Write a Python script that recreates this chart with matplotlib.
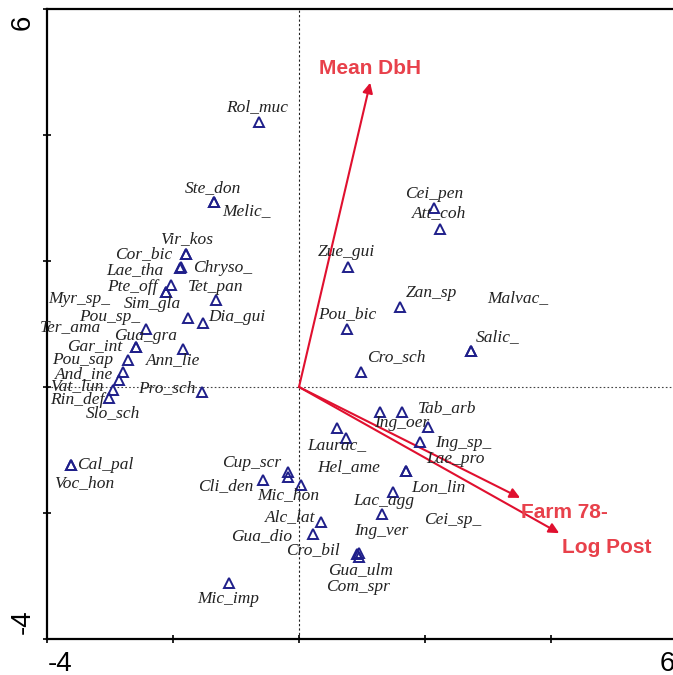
import matplotlib
matplotlib.use("Agg")
import matplotlib.pyplot as plt

# species scores (triangles)
species = ['Rol_muc', 'Ste_don', 'Melic_', 'Vir_kos', 'Cor_bic', 'Lae_tha', 'Chryso_',
           'Pte_off', 'Sim_gla', 'Myr_sp_', 'Tet_pan', 'Pou_sp_', 'Dia_gui', 'Gua_gra',
           'Ter_ama', 'Gar_int', 'Ann_lie', 'Pou_sap', 'And_ine', 'Vat_lun', 'Rin_def',
           'Slo_sch', 'Pro_sch', 'Cal_pal', 'Voc_hon', 'Cup_scr', '', 'Cli_den', 'Mic_hon',
           'Alc_lat', 'Gua_dio', 'Cro_bil', 'Gua_ulm', 'Com_spr', 'Mic_imp', 'Laurac_',
           'Hel_ame', 'Ing_oer', 'Tab_arb', 'Ing_sp_', 'Lae_pro', 'Lon_lin', 'Cei_sp_',
           'Lac_agg', 'Ing_ver', 'Cei_pen', 'Att_coh', 'Zue_gui', 'Zan_sp', 'Pou_bic',
           'Cro_sch', 'Salic_', 'Malvac_']
sp_x = [-0.63, -1.35, -1.35, -1.79, -1.79, -1.89, -1.87,
        -2.03, -2.11, -2.11, -1.32, -1.76, -1.52, -2.43,
        -2.59, -2.59, -1.84, -2.71, -2.79, -2.86, -2.95,
        -3.02, -1.54, -3.62, -3.62, -0.17, -0.17, -0.57, 0.03,
        0.35, 0.22, 0.92, 0.95, 0.95, -1.11, 0.60,
        0.75, 1.29, 1.63, 2.05, 1.92, 1.70, 1.70,
        1.49, 1.32, 2.14, 2.24, 0.78, 1.60, 0.76,
        0.98, 2.73, 2.73]
sp_y = [4.21, 2.94, 2.94, 2.11, 2.11, 1.89, 1.90,
        1.62, 1.51, 1.51, 1.38, 1.10, 1.02, 0.92,
        0.63, 0.63, 0.60, 0.43, 0.24, 0.11, -0.05,
        -0.17, -0.08, -1.24, -1.24, -1.35, -1.43, -1.48, -1.56,
        -2.14, -2.33, -2.65, -2.63, -2.70, -3.11, -0.65,
        -0.81, -0.40, -0.40, -0.63, -0.87, -1.33, -1.33,
        -1.67, -2.02, 2.84, 2.51, 1.90, 1.27, 0.92,
        0.24, 0.57, 0.57]

# where each species name is written (label centres)
lab_x = [-0.67, -1.37, -0.84, -1.79, -2.46, -2.60, -1.22,
         -2.65, -2.32, -3.49, -1.32, -3.00, -0.98, -2.43,
         -3.62, -3.24, -2.00, -3.43, -3.41, -3.52, -3.52,
         -2.95, -2.10, -3.08, -3.41, -0.75, 0, -1.17, -0.17,
         -0.14, -0.59, 0.22, 0.97, 0.94, -1.13, 0.60,
         0.78, 1.63, 2.35, 2.60, 2.48, 2.22, 2.44,
         1.35, 1.30, 2.14, 2.22, 0.76, 2.10, 0.76,
         1.54, 3.16, 3.48]
lab_y = [4.44, 3.16, 2.79, 2.35, 2.11, 1.86, 1.89,
         1.59, 1.32, 1.40, 1.59, 1.11, 1.11, 0.81,
         0.95, 0.65, 0.43, 0.43, 0.21, 0.02, -0.21,
         -0.41, -0.02, -1.24, -1.52, -1.21, 0, -1.57, -1.71,
         -2.06, -2.37, -2.59, -2.90, -3.17, -3.37, -0.92,
         -1.27, -0.57, -0.33, -0.89, -1.14, -1.59, -2.11,
         -1.81, -2.29, 3.06, 2.76, 2.14, 1.49, 1.16,
         0.48, 0.79, 1.41]

# environmental arrows
env_names = ['Mean DbH', 'Farm 78-', 'Log Post']
env_x = [1.13, 3.51, 4.13]
env_y = [4.83, -1.76, -2.32]
env_lab_x = [1.13, 4.21, 4.89]
env_lab_y = [5.05, -2.00, -2.54]

fig = plt.figure(figsize=(6.73, 6.75), dpi=100)
ax = fig.add_axes([47/673, 36/675, 630/673, 630/675])
ax.set_xlim(-4, 6)
ax.set_ylim(-4, 6)

ax.axhline(0, color='#444444', lw=0.8, ls=(0, (1.5, 2)), zorder=1)
ax.axvline(0, color='#222222', lw=0.8, ls=(0, (2, 2)), zorder=1)

ax.plot(sp_x, sp_y, ls='none', marker='^', ms=6.5, mfc='none',
        mec='#1f1f8a', mew=1.4, zorder=3)

for name, lx, ly in zip(species, lab_x, lab_y):
    if name:
        ax.text(lx, ly, name, ha='center', va='center', fontsize=12.5,
                family='Liberation Serif', style='italic', color='#222222', zorder=4)

for name, ex, ey, tx, ty in zip(env_names, env_x, env_y, env_lab_x, env_lab_y):
    ax.annotate('', xy=(ex, ey), xytext=(0, 0),
                arrowprops=dict(arrowstyle='-|>', color='#e0102f', lw=1.5,
                                mutation_scale=15, shrinkA=0, shrinkB=0), zorder=2)
    ax.text(tx, ty, name, ha='center', va='center', fontsize=15, fontweight='bold',
            family='Liberation Sans', color='#e8414b', zorder=4)

for side in ['top', 'left', 'bottom', 'right']:
    ax.spines[side].set_linewidth(1.6)

ax.set_xticks([-4, -2, 0, 2, 4, 6])
ax.set_yticks([-4, -2, 0, 2, 4, 6])
ax.set_xticklabels([])
ax.set_yticklabels([])
ax.tick_params(direction='inout', length=6, width=1.2)

# axis end labels, as in the original (only the extremes are numbered)
num = dict(fontsize=20, family='Liberation Sans', clip_on=False, va='center', ha='center')
ax.text(-3.79, -4.40, '-4', **num)
ax.text(5.85, -4.40, '6', **num)
ax.text(-4.38, 5.79, '6', rotation=90, **num)
ax.text(-4.38, -3.73, '-4', rotation=90, **num)

fig.savefig('out.png', dpi=100)
